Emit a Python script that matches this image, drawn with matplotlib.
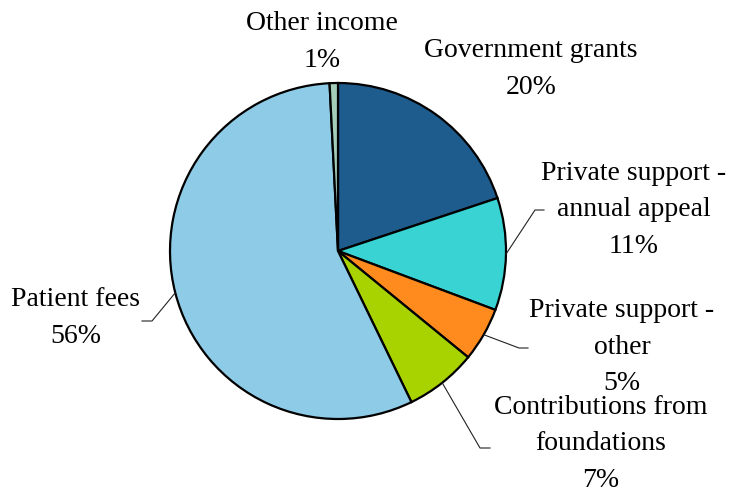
"""Income sources pie chart."""
import matplotlib
matplotlib.use("Agg")
import matplotlib.pyplot as plt
import numpy as np

W, H = 729, 493

names = [
    "Government grants",
    "Private support -\nannual appeal",
    "Private support -\nother",
    "Contributions from\nfoundations",
    "Patient fees",
    "Other income",
]
shares = [19.9, 10.8, 5.2, 6.9, 56.4, 0.8]
colors = ["#1F5C8E", "#3AD3D4", "#FF8A1E", "#A8D200", "#8ECBE7", "#A3CDB9"]

# label centres (pixels from top-left) and leader elbows
label_pos = [(531, 69), (634, 210), (622, 347), (601, 444), (76, 318), (322, 42)]
elbows = [None, [(535, 210), (544, 210)], [(519, 348), (528, 348)],
          [(480, 448), (490, 448)], [(152, 321), (142, 321)], None]

plt.rcParams["font.family"] = ["Liberation Serif", "DejaVu Serif"]

fig = plt.figure(figsize=(W / 100, H / 100), dpi=100)
ax = fig.add_axes([0, 0, 1, 1])

cx, cy, r = 338, H - 251, 168
wedges, _ = ax.pie(shares, colors=colors, startangle=90, counterclock=False,
                   center=(cx, cy), radius=r,
                   wedgeprops=dict(edgecolor="black", linewidth=1.6))
ax.set_xlim(0, W)
ax.set_ylim(0, H)
ax.set_aspect("equal")
ax.axis("off")

for w, name, v, (lx, ly), elb in zip(wedges, names, shares, label_pos, elbows):
    ax.text(lx, H - ly, f"{name}\n{round(v)}%", ha="center", va="center",
            fontsize=20, color="black", linespacing=1.62)
    if elb is None:
        continue
    mid = np.deg2rad((w.theta1 + w.theta2) / 2)
    xs = [cx + r * np.cos(mid)] + [p[0] for p in elb]
    ys = [cy + r * np.sin(mid)] + [H - p[1] for p in elb]
    ax.plot(xs, ys, color="#222222", linewidth=0.8)

fig.savefig("out.png", dpi=100)
